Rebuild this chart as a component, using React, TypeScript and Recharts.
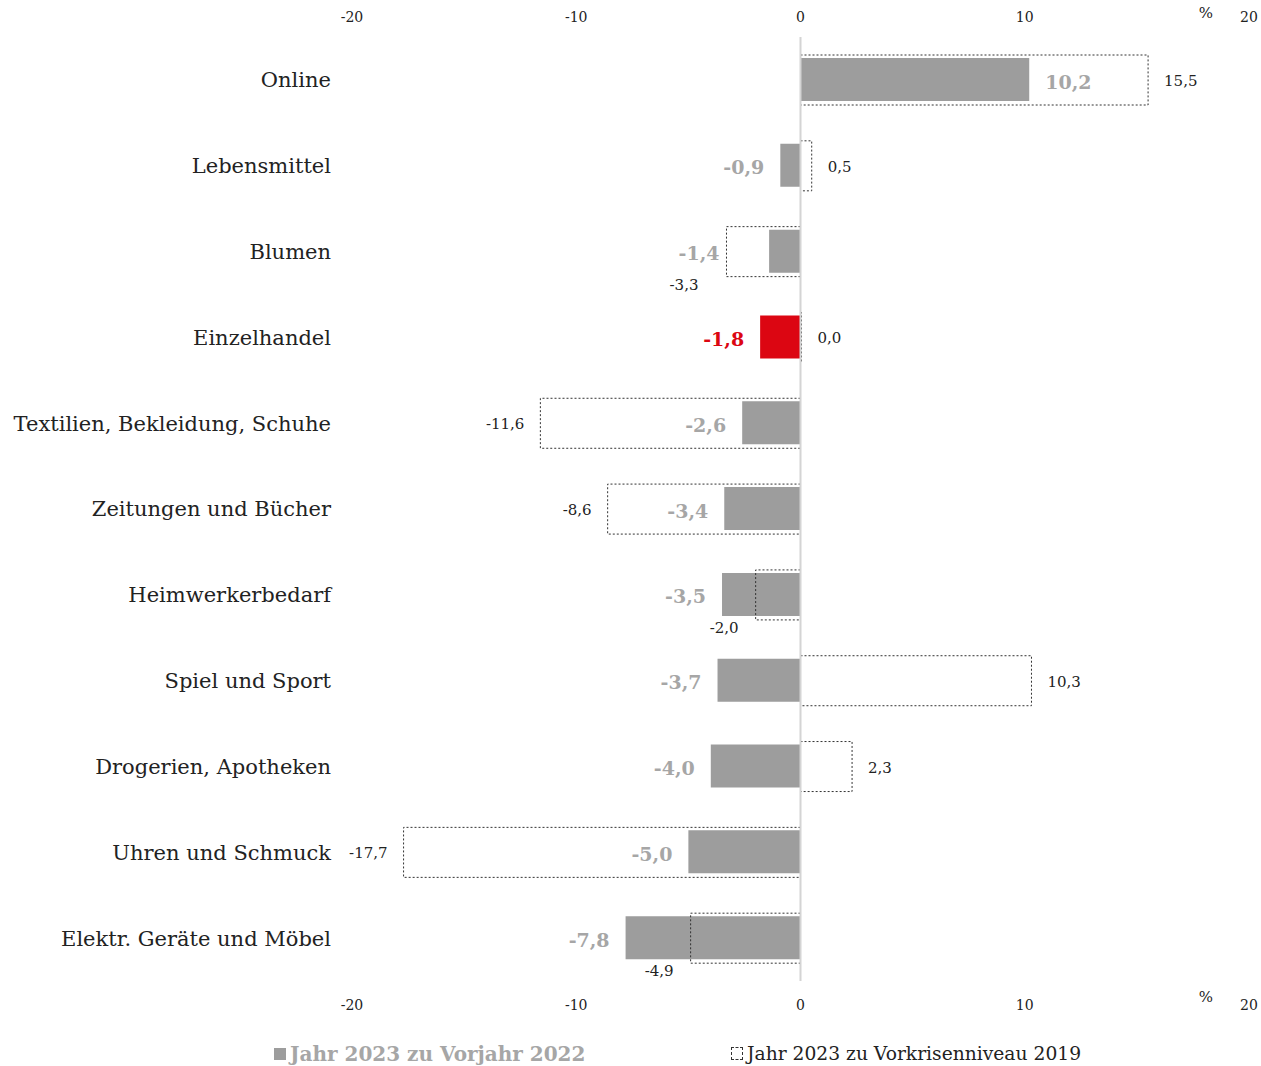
import React from "react";
import {
  BarChart, Bar, XAxis, YAxis, Cell, LabelList, ReferenceLine, Label,
} from "recharts";

const categories = [
  "Online",
  "Lebensmittel",
  "Blumen",
  "Einzelhandel",
  "Textilien, Bekleidung, Schuhe",
  "Zeitungen und Bücher",
  "Heimwerkerbedarf",
  "Spiel und Sport",
  "Drogerien, Apotheken",
  "Uhren und Schmuck",
  "Elektr. Geräte und Möbel",
];
// Jahr 2023 zu Vorjahr 2022
const vsPrevYear = [10.2, -0.9, -1.4, -1.8, -2.6, -3.4, -3.5, -3.7, -4.0, -5.0, -7.8];
// Jahr 2023 zu Vorkrisenniveau 2019
const vsPreCrisis = [15.5, 0.5, -3.3, 0.0, -11.6, -8.6, -2.0, 10.3, 2.3, -17.7, -4.9];
const xTicks = [-20, -10, 0, 10, 20];
const highlight = "Einzelhandel";

const data = categories.map((name, i) => ({
  name,
  vj: vsPrevYear[i],
  vk: vsPreCrisis[i],
}));

const FONT = "'DejaVu Serif', Georgia, serif";
const GRAY = "#9d9d9d";
const LABEL_GRAY = "#a6a6a6";
const RED = "#dc0612";

const fmt = (v: number) => v.toFixed(1).replace(".", ",");

// dashed label goes under the box when it sits close to / inside the gray bar
const dashedBelow = (i: number) => {
  const a = vsPrevYear[i];
  const b = vsPreCrisis[i];
  return a < 0 && b < 0 && Math.abs(b) < Math.abs(a) + 2;
};

const geom = (x: number, w: number, v: number) => {
  const lo = Math.min(x, x + w);
  const hi = Math.max(x, x + w);
  const zero = v >= 0 ? lo : hi;
  const end = v >= 0 ? hi : lo;
  return { zero, end };
};

const GrayLabel = (props: any) => {
  const { x, y, width, height, value } = props;
  const index = vsPrevYear.indexOf(Number(value));
  if (index < 0) return null;
  const v = vsPrevYear[index];
  const b = vsPreCrisis[index];
  const { zero, end } = geom(Number(x), Number(width), v);
  const ppu = Math.abs(Number(width)) / Math.abs(v);
  const isHi = categories[index] === highlight;
  let tx = v >= 0 ? end + 16 : end - 16;
  if (dashedBelow(index) && Math.abs(b) > Math.abs(v)) {
    tx = zero + b * ppu - 7;
  }
  return (
    <text
      x={tx}
      y={Number(y) + Number(height) / 2 + 2}
      textAnchor={v >= 0 ? "start" : "end"}
      dominantBaseline="central"
      fontFamily={FONT}
      fontWeight="bold"
      fontSize={19}
      fill={isHi ? RED : LABEL_GRAY}
    >
      {fmt(v)}
    </text>
  );
};

const DashedLabel = (props: any) => {
  const { x, y, width, height, value } = props;
  const index = vsPreCrisis.indexOf(Number(value));
  if (index < 0) return null;
  const v = vsPreCrisis[index];
  const { end } = geom(Number(x), Number(width), v);
  if (dashedBelow(index)) {
    const a = vsPrevYear[index];
    const extra = Math.abs(v) > Math.abs(a) ? 28 : 17;
    return (
      <text
        x={end - extra}
        y={Number(y) + Number(height) + 8}
        textAnchor="end"
        dominantBaseline="central"
        fontFamily={FONT}
        fontSize={15}
        fill="#222"
      >
        {fmt(v)}
      </text>
    );
  }
  return (
    <text
      x={v >= 0 ? end + 16 : end - 16}
      y={Number(y) + Number(height) / 2 + 1}
      textAnchor={v >= 0 ? "start" : "end"}
      dominantBaseline="central"
      fontFamily={FONT}
      fontSize={15}
      fill="#222"
    >
      {fmt(v)}
    </text>
  );
};

const ChartLegend = () => (
  <div style={{ position: "absolute", left: 0, top: 1042, width: 1261, height: 28, fontFamily: FONT }}>
    <div style={{ position: "absolute", left: 274, top: 0, display: "flex", alignItems: "center" }}>
      <span style={{ display: "inline-block", width: 12, height: 12, background: GRAY, marginRight: 4 }} />
      <span style={{ fontWeight: "bold", fontSize: 20, color: LABEL_GRAY }}>Jahr 2023 zu Vorjahr 2022</span>
    </div>
    <div style={{ position: "absolute", left: 731, top: 1, display: "flex", alignItems: "center" }}>
      <span style={{ display: "inline-block", width: 10, height: 11, border: "1px dashed #333", marginRight: 4 }} />
      <span style={{ fontSize: 18.7, color: "#222" }}>Jahr 2023 zu Vorkrisenniveau 2019</span>
    </div>
  </div>
);

const tickStyle = { fontSize: 14, fill: "#222", fontFamily: FONT };

export default function App() {
  return (
    <div style={{ position: "absolute", left: 0, top: 0, width: 1261, height: 1066, background: "#fff" }}>
      <BarChart
        layout="vertical"
        width={1261}
        height={1066}
        data={data}
        margin={{ top: 0, right: 12, left: 0, bottom: 45 }}
      >
        <XAxis
          xAxisId="top"
          orientation="top"
          type="number"
          domain={[-20, 20]}
          ticks={xTicks}
          height={37}
          axisLine={false}
          tickLine={false}
          tickSize={0}
          tickMargin={15}
          tick={tickStyle}
          allowDataOverflow
        >
          <Label value="%" position="insideRight" offset={36} dy={-6} style={{ fontSize: 15, fill: "#222", fontFamily: FONT }} />
        </XAxis>
        <XAxis
          xAxisId="bottom"
          orientation="bottom"
          type="number"
          domain={[-20, 20]}
          ticks={xTicks}
          height={40}
          axisLine={false}
          tickLine={false}
          tickSize={0}
          tickMargin={19}
          tick={tickStyle}
          allowDataOverflow
        >
          <Label value="%" position="insideRight" offset={36} dy={-4} style={{ fontSize: 15, fill: "#222", fontFamily: FONT }} />
        </XAxis>
        <YAxis
          yAxisId="a"
          type="category"
          dataKey="name"
          width={352}
          axisLine={false}
          tickLine={false}
          tickSize={0}
          tickMargin={21}
          tick={{ fontSize: 21, fill: "#222", fontFamily: FONT }}
        />
        <YAxis yAxisId="b" type="category" dataKey="name" hide />
        <ReferenceLine x={0} xAxisId="bottom" yAxisId="a" stroke="#d4d4d4" strokeWidth={2} />
        <Bar dataKey="vj" xAxisId="bottom" yAxisId="a" barSize={43} fill={GRAY} isAnimationActive={false}>
          {data.map((d) => (
            <Cell key={d.name} fill={d.name === highlight ? RED : GRAY} />
          ))}
          <LabelList dataKey="vj" content={GrayLabel} />
        </Bar>
        <Bar
          dataKey="vk"
          xAxisId="bottom"
          yAxisId="b"
          barSize={50}
          minPointSize={1}
          fill="none"
          stroke="#333"
          strokeWidth={1}
          strokeDasharray="2 2"
          isAnimationActive={false}
        >
          <LabelList dataKey="vk" content={DashedLabel} />
        </Bar>
      </BarChart>
      <ChartLegend />
    </div>
  );
}
